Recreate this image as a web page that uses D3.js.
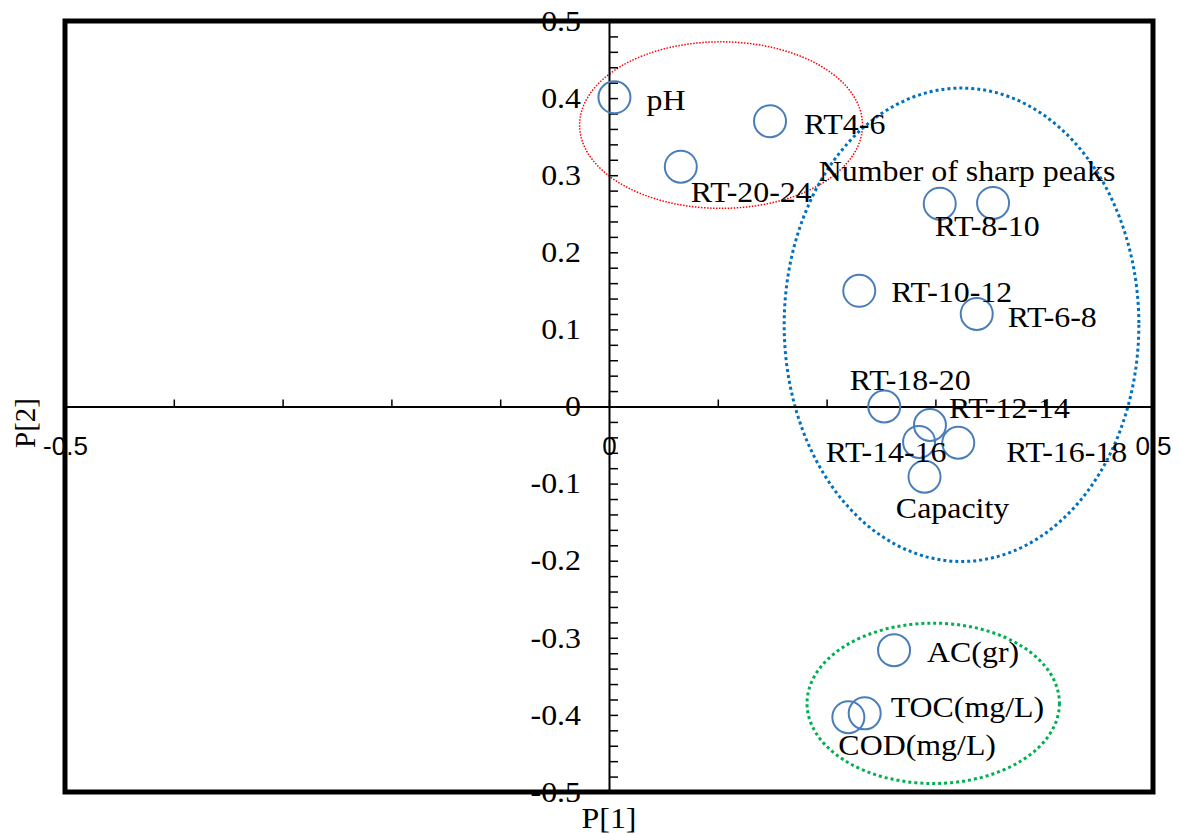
<!DOCTYPE html>
<html>
<head>
<meta charset="utf-8">
<script src="https://cdn.jsdelivr.net/npm/d3@7"></script>
<style>
  html, body { margin: 0; padding: 0; background: #fff; }
  svg { display: block; }
</style>
</head>
<body>
<svg id="chart" width="1181" height="834"></svg>
<script>
// ---- data ----
const names = ["pH", "RT4-6", "RT-20-24", "Number of sharp peaks", "RT-8-10", "RT-10-12", "RT-6-8",
  "RT-18-20", "RT-12-14", "RT-14-16", "RT-16-18", "Capacity", "AC(gr)", "TOC(mg/L)", "COD(mg/L)"];
const p1 = [0.005, 0.148, 0.066, 0.353, 0.304, 0.230, 0.338, 0.253, 0.295, 0.285, 0.321, 0.290, 0.262, 0.235, 0.220];
const p2 = [0.401, 0.370, 0.311, 0.264, 0.263, 0.150, 0.120, 0.000, -0.024, -0.046, -0.047, -0.091, -0.316, -0.398, -0.403];
const yTickLabels = [0.5, 0.4, 0.3, 0.2, 0.1, 0, -0.1, -0.2, -0.3, -0.4, -0.5];
const xTickLabels = [-0.5, 0, 0.5];
// cluster ellipses: centre (P1, P2) and radii in data units
const clusterCx = [0.103, 0.324, 0.298];
const clusterCy = [0.365, 0.106, -0.385];
const clusterRx = [0.130, 0.163, 0.116];
const clusterRy = [0.108, 0.307, 0.104];

// ---- layout (label placement, pixels relative to each marker) ----
const labelLayout = {
  "pH": [32, 3, "start"],
  "RT4-6": [34, 3, "start"],
  "RT-20-24": [10, 25, "start"],
  "Number of sharp peaks": [-26, -32, "middle"],
  "RT-8-10": [-5, 22, "start"],
  "RT-10-12": [32, 1, "start"],
  "RT-6-8": [31, 3, "start"],
  "RT-18-20": [26, -27, "middle"],
  "RT-12-14": [19, -17, "start"],
  "RT-14-16": [-33, 10, "middle"],
  "RT-16-18": [48, 9, "start"],
  "Capacity": [28, 31, "middle"],
  "AC(gr)": [33, 2, "start"],
  "TOC(mg/L)": [26, -7, "start"],
  "COD(mg/L)": [-10, 28, "start"]
};
const clusterStyle = [
  {color: "#ff0000", width: 1.5, dash: "1.5,1.5"},
  {color: "#0070c0", width: 3, dash: "3,3"},
  {color: "#00b050", width: 3, dash: "3,3"}
];

const serif = "'Liberation Serif', 'Times New Roman', serif";
const sans = "'Liberation Sans', Arial, sans-serif";
const stretch = 1.1; // horizontal text stretch seen in the reference

const svg = d3.select("#chart");
const x = d3.scaleLinear().domain([-0.5, 0.5]).range([65, 1153]);
const y = d3.scaleLinear().domain([-0.5, 0.5]).range([792, 21]);

// ellipses
svg.append("g").selectAll("ellipse")
  .data(clusterCx.map((c, i) => i))
  .join("ellipse")
  .attr("cx", i => x(clusterCx[i]))
  .attr("cy", i => y(clusterCy[i]))
  .attr("rx", i => x(clusterRx[i]) - x(0))
  .attr("ry", i => y(0) - y(clusterRy[i]))
  .attr("fill", "none")
  .attr("stroke", i => clusterStyle[i].color)
  .attr("stroke-width", i => clusterStyle[i].width)
  .attr("stroke-dasharray", i => clusterStyle[i].dash);

// axis lines through origin
const xAxisG = svg.append("g").attr("transform", `translate(0,${y(0)})`)
  .call(d3.axisTop(x).tickValues(d3.range(-5, 6).map(d => d / 10)).tickSize(7).tickFormat("").tickSizeOuter(0));
xAxisG.select(".domain").attr("stroke-width", 2);
xAxisG.selectAll(".tick line").attr("stroke-width", 1.5);

const yAxisG = svg.append("g").attr("transform", `translate(${x(0)},0)`)
  .call(d3.axisRight(y).tickValues(d3.range(-25, 26).map(d => d / 50)).tickSize(9).tickFormat("").tickSizeOuter(0));
yAxisG.select(".domain").attr("stroke-width", 2);
yAxisG.selectAll(".tick line").attr("stroke-width", 1.5);

// y tick labels
const yLab = svg.append("g").attr("transform", `translate(${x(0)},0)`)
  .call(d3.axisLeft(y).tickValues(yTickLabels).tickSize(0).tickPadding(28)
    .tickFormat(d => d === 0 ? "0" : d.toFixed(1)));
yLab.select(".domain").remove();
yLab.selectAll("text").attr("font-family", serif).attr("font-size", 29).attr("fill", "#000")
  .attr("x", -28 / stretch).attr("transform", `scale(${stretch},1)`);

// x tick labels
const xLab = svg.append("g").attr("transform", `translate(0,${y(0)})`)
  .call(d3.axisBottom(x).tickValues(xTickLabels).tickSize(0).tickPadding(30)
    .tickFormat(d => d === 0 ? "0" : d.toFixed(1)));
xLab.select(".domain").remove();
xLab.selectAll("text").attr("font-family", sans).attr("font-size", 26).attr("fill", "#000");

// markers
const idx = names.map((n, i) => i);
svg.append("g").selectAll("circle")
  .data(idx).join("circle")
  .attr("cx", i => x(p1[i]))
  .attr("cy", i => y(p2[i]))
  .attr("r", 16)
  .attr("fill", "none")
  .attr("stroke", "#4a7ebb")
  .attr("stroke-width", 2);

// labels
svg.append("g").selectAll("text")
  .data(idx).join("text")
  .attr("transform", i => `translate(${x(p1[i]) + labelLayout[names[i]][0]},${y(p2[i]) + labelLayout[names[i]][1]}) scale(${stretch},1)`)
  .attr("dy", "0.35em")
  .attr("text-anchor", i => labelLayout[names[i]][2])
  .attr("font-family", serif)
  .attr("font-size", 29)
  .attr("fill", "#000")
  .text(i => names[i]);

// frame
svg.append("rect")
  .attr("x", x(-0.5)).attr("y", y(0.5))
  .attr("width", x(0.5) - x(-0.5)).attr("height", y(-0.5) - y(0.5))
  .attr("fill", "none").attr("stroke", "#000").attr("stroke-width", 5);

// axis titles
svg.append("text")
  .attr("transform", `translate(${x(0)},818) scale(${stretch},1)`)
  .attr("dy", "0.35em")
  .attr("text-anchor", "middle")
  .attr("font-family", serif).attr("font-size", 29)
  .text("P[1]");
svg.append("text")
  .attr("transform", "translate(25,423) rotate(-90)")
  .attr("dy", "0.35em")
  .attr("text-anchor", "middle")
  .attr("font-family", serif).attr("font-size", 29)
  .text("P[2]");
</script>
</body>
</html>
